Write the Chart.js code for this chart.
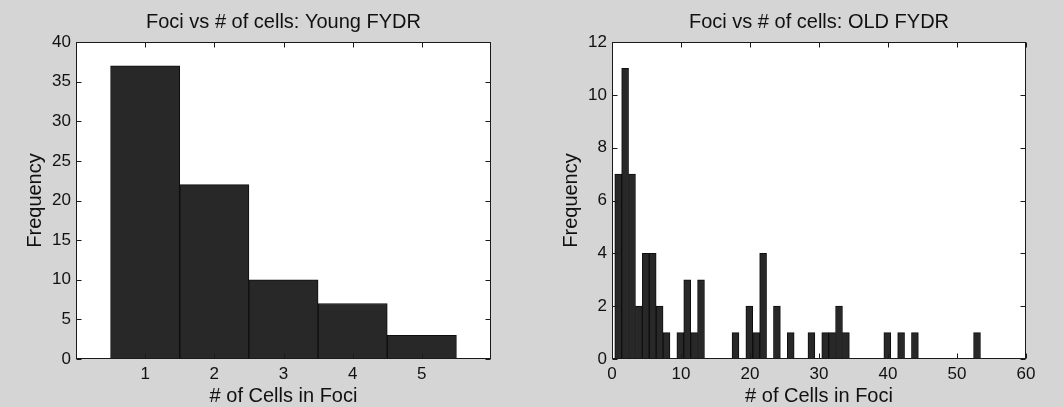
<!DOCTYPE html>
<html>
<head>
<meta charset="utf-8">
<title>Foci vs # of cells</title>
<script src="https://cdn.jsdelivr.net/npm/chart.js@4.4.0/dist/chart.umd.min.js"></script>
<style>
    html, body { margin: 0; padding: 0; background: #d5d5d5; }
    #wrap { position: relative; width: 1063px; height: 407px; overflow: hidden; }
    .panel { position: absolute; top: 0; height: 407px; }
    #young-panel { left: 0; width: 531px; }
    #old-panel { left: 531px; width: 532px; }
</style>
</head>
<body>
<div id="wrap">
    <div class="panel" id="young-panel"><canvas id="youngChart" width="531" height="407"></canvas></div>
    <div class="panel" id="old-panel"><canvas id="oldChart" width="532" height="407"></canvas></div>
</div>
<script>
// ===== histogram data =====
const youngBins = [1, 2, 3, 4, 5];
const youngCounts = [37, 22, 10, 7, 3];
const youngXTicks = [1, 2, 3, 4, 5];
const youngYTicks = [0, 5, 10, 15, 20, 25, 30, 35, 40];

// bin centres of the non-empty bins (bins are 1 cell wide)
const oldBins = [0.9, 1.9, 2.9, 3.9, 4.9, 5.9, 6.9, 7.9, 9.9, 10.9, 11.9, 12.9, 17.9, 19.9, 20.9, 21.9,
    23.9, 25.9, 28.9, 30.9, 31.9, 32.9, 33.9, 39.9, 41.9, 43.9, 52.9];
const oldCounts = [7, 11, 7, 2, 4, 4, 2, 1, 1, 3, 1, 3, 1, 2, 1, 4,
    2, 1, 1, 1, 1, 2, 1, 1, 1, 1, 1];
const oldXTicks = [0, 10, 20, 30, 40, 50, 60];
const oldYTicks = [0, 2, 4, 6, 8, 10, 12];

const INK = '#111111';
const BAR_FILL = '#282828';
const BAR_EDGE = '#0e0e0e';

Chart.defaults.font.family = '"Liberation Sans", Arial, sans-serif';
Chart.defaults.color = INK;

// white plot box, inward ticks on all four sides and the title above the box
const matlabFrame = {
    id: 'matlabFrame',
    beforeDraw(chart) {
        const { ctx, chartArea: a } = chart;
        ctx.save();
        ctx.fillStyle = '#ffffff';
        ctx.fillRect(a.left, a.top, a.right - a.left, a.bottom - a.top);
        ctx.restore();
    },
    afterDatasetsDraw(chart, args, opts) {
        const { ctx, chartArea: a, scales } = chart;
        const len = 5;
        const left = Math.round(a.left) + 0.5, right = Math.round(a.right) - 0.5;
        const top = Math.round(a.top) + 0.5, bottom = Math.round(a.bottom) - 0.5;
        ctx.save();
        ctx.strokeStyle = '#1a1a1a';
        ctx.lineWidth = 1;
        ctx.beginPath();
        scales.x.ticks.forEach(t => {
            const px = Math.round(scales.x.getPixelForValue(t.value)) + 0.5;
            ctx.moveTo(px, bottom); ctx.lineTo(px, bottom - len);
            ctx.moveTo(px, top); ctx.lineTo(px, top + len);
        });
        scales.y.ticks.forEach(t => {
            const py = Math.round(scales.y.getPixelForValue(t.value)) + 0.5;
            ctx.moveTo(left, py); ctx.lineTo(left + len, py);
            ctx.moveTo(right, py); ctx.lineTo(right - len, py);
        });
        ctx.stroke();
        ctx.strokeRect(left, top, right - left, bottom - top);

        ctx.fillStyle = INK;
        ctx.font = '20px "Liberation Sans", Arial, sans-serif';
        ctx.textAlign = 'center';
        ctx.textBaseline = 'alphabetic';
        ctx.fillText(opts.text, (a.left + a.right) / 2, 28);
        ctx.restore();
    }
};

function makeHistogram(canvasId, cfg) {
    const ctx = document.getElementById(canvasId);
    if (!ctx) return null;
    return new Chart(ctx, {
        type: 'bar',
        data: {
            datasets: [{
                data: cfg.bins.map((b, i) => ({ x: b, y: cfg.counts[i] })),
                backgroundColor: BAR_FILL,
                borderColor: BAR_EDGE,
                borderWidth: 1,
                barPercentage: 1,
                categoryPercentage: 1
            }]
        },
        options: {
            responsive: false,
            animation: false,
            devicePixelRatio: 1,
            layout: { padding: { top: 42, right: cfg.padRight, left: 0, bottom: 0 } },
            plugins: {
                legend: { display: false },
                tooltip: { enabled: false },
                matlabFrame: { text: cfg.title }
            },
            scales: {
                x: {
                    type: 'linear',
                    offset: false,
                    min: cfg.xMin,
                    max: cfg.xMax,
                    afterBuildTicks: s => { s.ticks = cfg.xTicks.map(v => ({ value: v })); },
                    afterFit: s => { s.height = 48; },
                    grid: { display: false, drawTicks: false, offset: false },
                    border: { display: false },
                    ticks: { font: { size: 17 }, padding: 5, maxRotation: 0, autoSkip: false },
                    title: {
                        display: true,
                        text: '# of Cells in Foci',
                        font: { size: 20, lineHeight: 1 },
                        padding: { top: 0, bottom: 1 }
                    }
                },
                y: {
                    min: cfg.yMin,
                    max: cfg.yMax,
                    afterBuildTicks: s => { s.ticks = cfg.yTicks.map(v => ({ value: v })); },
                    afterFit: s => { s.width = cfg.axisWidth; },
                    grid: { display: false, drawTicks: false },
                    border: { display: false },
                    ticks: { font: { size: 17 }, padding: 5, autoSkip: false },
                    title: {
                        display: true,
                        text: 'Frequency',
                        font: { size: 20, lineHeight: 1 },
                        padding: { top: cfg.titleInset, bottom: 0 }
                    }
                }
            }
        },
        plugins: [matlabFrame]
    });
}

document.addEventListener('DOMContentLoaded', function() {
    window.youngChart = makeHistogram('youngChart', {
        title: 'Foci vs # of cells: Young FYDR',
        bins: youngBins, counts: youngCounts,
        xTicks: youngXTicks, yTicks: youngYTicks,
        xMin: 0, xMax: 6, yMin: 0, yMax: 40,
        axisWidth: 76, padRight: 40, titleInset: 25
    });
    window.oldChart = makeHistogram('oldChart', {
        title: 'Foci vs # of cells: OLD FYDR',
        bins: oldBins, counts: oldCounts,
        xTicks: oldXTicks, yTicks: oldYTicks,
        xMin: 0, xMax: 60, yMin: 0, yMax: 12,
        axisWidth: 81, padRight: 37, titleInset: 30
    });
});
</script>
</body>
</html>
